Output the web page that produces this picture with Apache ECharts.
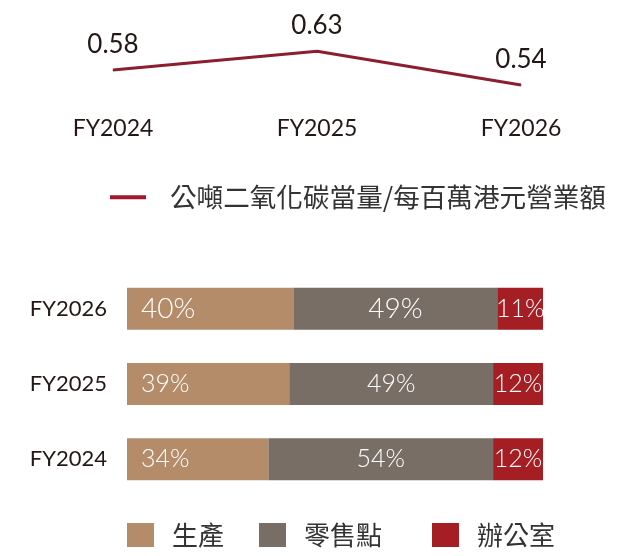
<!DOCTYPE html>
<html>
<head>
<meta charset="utf-8">
<script src="https://cdn.jsdelivr.net/npm/echarts@6/dist/echarts.min.js"></script>
<style>html,body{margin:0;padding:0;background:#fff}#c{width:640px;height:556px}</style>
</head>
<body>
<div id="c"></div>
<script>
// ---- data ----
var lineYears = ['FY2024', 'FY2025', 'FY2026'];
var intensity = [0.58, 0.63, 0.54];
var intensityName = '公噸二氧化碳當量/每百萬港元營業額';

var barYears = ['FY2024', 'FY2025', 'FY2026'];
var production = [34, 39, 40];
var retail = [54, 49, 49];
var office = [12, 12, 11];
var barNames = ['生產', '零售點', '辦公室'];

// ---- styles ----
var FONT = 'Lato, "Noto Sans CJK TC", sans-serif';
var CJK = '"Noto Sans CJK TC", sans-serif';
var colors = ['#B58C6A', '#796E65', '#A51E24'];

function withLabelSizes(arr, topSize) {
  return arr.map(function (v, i) {
    return { value: v, label: { fontSize: i === 2 ? topSize : 25 } };
  });
}

var chart = echarts.init(document.getElementById('c'));
chart.setOption({
  animation: false,
  grid: [
    { left: 113, right: 119, top: 40, height: 60 },
    { left: 127, right: 97, top: 271, height: 226 }
  ],
  xAxis: [
    {
      gridIndex: 0, type: 'category', data: lineYears, boundaryGap: false,
      axisLine: { show: false }, axisTick: { show: false },
      axisLabel: { margin: 17, fontSize: 23, color: '#231815', fontFamily: FONT }
    },
    { gridIndex: 1, type: 'value', min: 0, max: 100, show: false }
  ],
  yAxis: [
    { gridIndex: 0, type: 'value', min: 0.5, max: 0.66, show: false },
    {
      gridIndex: 1, type: 'category', data: barYears,
      axisLine: { show: false }, axisTick: { show: false },
      axisLabel: { margin: 20, fontSize: 22, color: '#231815', fontFamily: FONT }
    }
  ],
  legend: [
    {
      left: 110, top: 184, padding: 0,
      data: [{ name: intensityName, icon: 'rect', itemStyle: { color: '#A3172A' } }],
      itemWidth: 36, itemHeight: 4,
      textStyle: { fontSize: 26.6, color: '#333', fontFamily: CJK, padding: [0, 0, 0, 19] }
    },
    {
      left: 127, top: 522, padding: 0, data: [barNames[0]], icon: 'rect',
      itemWidth: 27, itemHeight: 24,
      textStyle: { fontSize: 26, color: '#333', fontFamily: CJK, padding: [0, 0, 0, 13] }
    },
    {
      left: 259, top: 522, padding: 0, data: [barNames[1]], icon: 'rect',
      itemWidth: 27, itemHeight: 24,
      textStyle: { fontSize: 26, color: '#333', fontFamily: CJK, padding: [0, 0, 0, 13] }
    },
    {
      left: 432, top: 522, padding: 0, data: [barNames[2]], icon: 'rect',
      itemWidth: 27, itemHeight: 24,
      textStyle: { fontSize: 26, color: '#333', fontFamily: CJK, padding: [0, 0, 0, 13] }
    }
  ],
  series: [
    {
      name: intensityName, type: 'line', xAxisIndex: 0, yAxisIndex: 0,
      data: intensity, symbol: 'circle', symbolSize: 1,
      lineStyle: { color: '#8B1E2F', width: 3 },
      itemStyle: { color: '#8B1E2F' },
      label: { show: true, position: 'top', distance: 12, fontSize: 26, color: '#231815', fontFamily: FONT }
    },
    {
      name: barNames[0], type: 'bar', stack: 'a', xAxisIndex: 1, yAxisIndex: 1,
      barWidth: 42, data: withLabelSizes(production, 28),
      itemStyle: { color: colors[0] },
      label: { show: true, position: 'insideLeft', distance: 14, formatter: '{c}%', color: '#fff', fontFamily: FONT, fontWeight: 300 }
    },
    {
      name: barNames[1], type: 'bar', stack: 'a', xAxisIndex: 1, yAxisIndex: 1,
      barWidth: 42, data: withLabelSizes(retail, 28),
      itemStyle: { color: colors[1] },
      label: { show: true, position: 'inside', formatter: '{c}%', color: '#fff', fontFamily: FONT, fontWeight: 300 }
    },
    {
      name: barNames[2], type: 'bar', stack: 'a', xAxisIndex: 1, yAxisIndex: 1,
      barWidth: 42, data: withLabelSizes(office, 25),
      itemStyle: { color: colors[2] },
      label: { show: true, position: 'inside', formatter: '{c}%', color: '#fff', fontFamily: FONT, fontWeight: 300 }
    }
  ]
});
</script>
</body>
</html>
